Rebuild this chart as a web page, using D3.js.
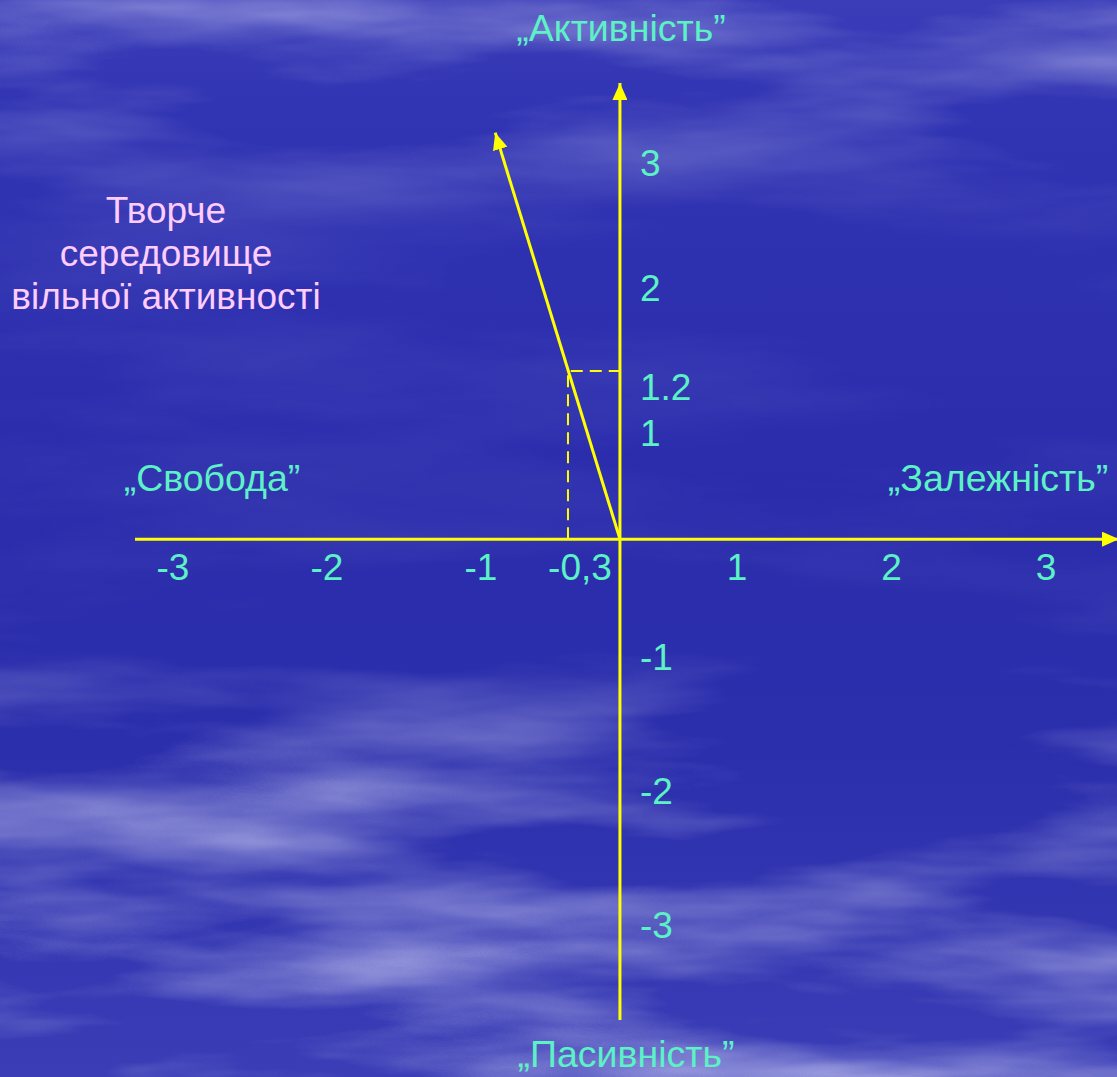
<!DOCTYPE html>
<html><head><meta charset="utf-8">
<script src="https://cdn.jsdelivr.net/npm/d3@7"></script>
<style>html,body{margin:0;padding:0;overflow:hidden;background:#2c2fae}</style>
</head><body>
<script>
// ---- data ----
const xTickValues = [-3, -2, -1, -0.3, 1, 2, 3];
const xTickLabels = ["-3", "-2", "-1", "-0,3", "1", "2", "3"];
const yTickValues = [3, 2, 1.2, 1, -1, -2, -3];
const yTickLabels = ["3", "2", "1.2", "1", "-1", "-2", "-3"];
const point = [-0.3, 1.2];          // "Творче середовище вільної активності"
const vectorEnd = [-0.72, 2.9];     // arrow continues the same direction
const axisTitles = ["„Активність”", "„Пасивність”", "„Свобода”", "„Залежність”"];
const noteLines = ["Творче", "середовище", "вільної активності"];

const W = 1117, H = 1077;
const svg = d3.select("body").append("svg").attr("width", W).attr("height", H);
const defs = svg.append("defs");

// ---- background (sky with clouds) ----
const bg = defs.append("linearGradient").attr("id","bg").attr("x1",0).attr("y1",0).attr("x2",0).attr("y2",1);
[[0,"#3a3cb8"],[0.12,"#3033b2"],[0.45,"#2a2cac"],[0.7,"#2c2fac"],[1,"#3a3db6"]].forEach(s=>bg.append("stop").attr("offset",s[0]).attr("stop-color",s[1]));
svg.append("rect").attr("width",W).attr("height",H).attr("fill","url(#bg)");

const f = defs.append("filter").attr("id","clouds").attr("x",0).attr("y",0).attr("width","100%").attr("height","100%");
f.append("feTurbulence").attr("type","fractalNoise").attr("baseFrequency","0.0016 0.009").attr("numOctaves",5).attr("seed",7).attr("result","n");
f.append("feColorMatrix").attr("in","n").attr("type","matrix")
 .attr("values","0 0 0 0 0.82  0 0 0 0 0.82  0 0 0 0 1  2.6 0 0 0 -1.15");
const cm = defs.append("linearGradient").attr("id","cmask").attr("x1",0).attr("y1",0).attr("x2",0).attr("y2",1);
[[0,0.75],[0.12,0.45],[0.22,0.12],[0.55,0.1],[0.68,0.55],[0.85,0.85],[1,0.9]].forEach(s=>cm.append("stop").attr("offset",s[0]).attr("stop-color","#fff").attr("stop-opacity",s[1]));
const mask = defs.append("mask").attr("id","m");
mask.append("rect").attr("width",W).attr("height",H).attr("fill","url(#cmask)");
svg.append("rect").attr("width",W).attr("height",H).attr("filter","url(#clouds)").attr("mask","url(#m)").attr("opacity",0.7);

// ---- scales ----
const x = d3.scaleLinear().domain([-2.8, 2.87]).range([135, 1117]);
const y = d3.scaleLinear().domain([-3.43, 3.24]).range([1020, 85]);
// tick labels are placed as on the original slide (not evenly around zero)
const xLab = d3.scaleLinear().domain([-3, -1, -0.3, 1, 3]).range([173, 481, 580, 737, 1046]);
const yLab = d3.scaleLinear().domain([-3, -1, 1, 1.2, 3]).range([925, 657, 433, 387, 163]);

const YEL = "#ffff00", MINT = "#5cf2c6", PINK = "#ffccff";
const FONT = "'Liberation Sans', Arial, sans-serif";

function marker(id, w, l) {
  defs.append("marker").attr("id", id).attr("viewBox", `0 -${w/2} ${l} ${w}`)
    .attr("refX", l).attr("refY", 0).attr("markerUnits","userSpaceOnUse")
    .attr("markerWidth", l).attr("markerHeight", w).attr("orient","auto")
    .append("path").attr("d", `M0,-${w/2}L${l},0L0,${w/2}Z`).attr("fill", YEL);
}
marker("arr", 15, 17);

// ---- axes ----
svg.append("line").attr("x1", x(-2.8)).attr("x2", x(2.87)+2).attr("y1", y(0)).attr("y2", y(0))
  .attr("stroke", YEL).attr("stroke-width", 3).attr("marker-end","url(#arr)");
svg.append("line").attr("x1", x(0)).attr("x2", x(0)).attr("y1", y(-3.43)).attr("y2", y(3.24)-2)
  .attr("stroke", YEL).attr("stroke-width", 3).attr("marker-end","url(#arr)");

// ---- dashed guides ----
svg.append("path").attr("d", `M${x(point[0])},${y(0)}V${y(point[1])}H${x(0)}`)
  .attr("fill","none").attr("stroke", YEL).attr("stroke-width", 2).attr("stroke-dasharray","12 7");

// ---- vector ----
svg.append("line").attr("x1", x(0)).attr("y1", y(0)).attr("x2", x(vectorEnd[0])).attr("y2", y(vectorEnd[1]))
  .attr("stroke", YEL).attr("stroke-width", 3).attr("marker-end","url(#arr)");

// ---- tick labels ----
svg.append("g").selectAll("text").data(xTickValues).join("text")
  .attr("x", d => xLab(d)).attr("y", y(0) + 41).attr("text-anchor","middle")
  .attr("font-family", FONT).attr("font-size", 37).attr("fill", MINT)
  .text((d,i) => xTickLabels[i]);
svg.append("g").selectAll("text").data(yTickValues).join("text")
  .attr("x", x(0) + 20).attr("y", d => yLab(d)).attr("dy","0.36em")
  .attr("font-family", FONT).attr("font-size", 37).attr("fill", MINT)
  .text((d,i) => yTickLabels[i]);

// ---- axis titles ----
const t = svg.append("g").attr("font-family", FONT).attr("font-size", 37.5).attr("fill", MINT);
t.append("text").attr("x", 621).attr("y", 41).attr("text-anchor","middle").text(axisTitles[0]);
t.append("text").attr("x", 626).attr("y", 1067).attr("text-anchor","middle").text(axisTitles[1]);
t.append("text").attr("x", 212).attr("y", 491).attr("text-anchor","middle").text(axisTitles[2]);
t.append("text").attr("x", 998).attr("y", 491).attr("text-anchor","middle").text(axisTitles[3]);

// ---- note ----
svg.append("g").attr("font-family", FONT).attr("font-size", 37).attr("fill", PINK)
  .selectAll("text").data(noteLines).join("text")
  .attr("x", 166).attr("y", (d,i) => 223 + i*43).attr("text-anchor","middle").text(d => d);
</script>
</body></html>
